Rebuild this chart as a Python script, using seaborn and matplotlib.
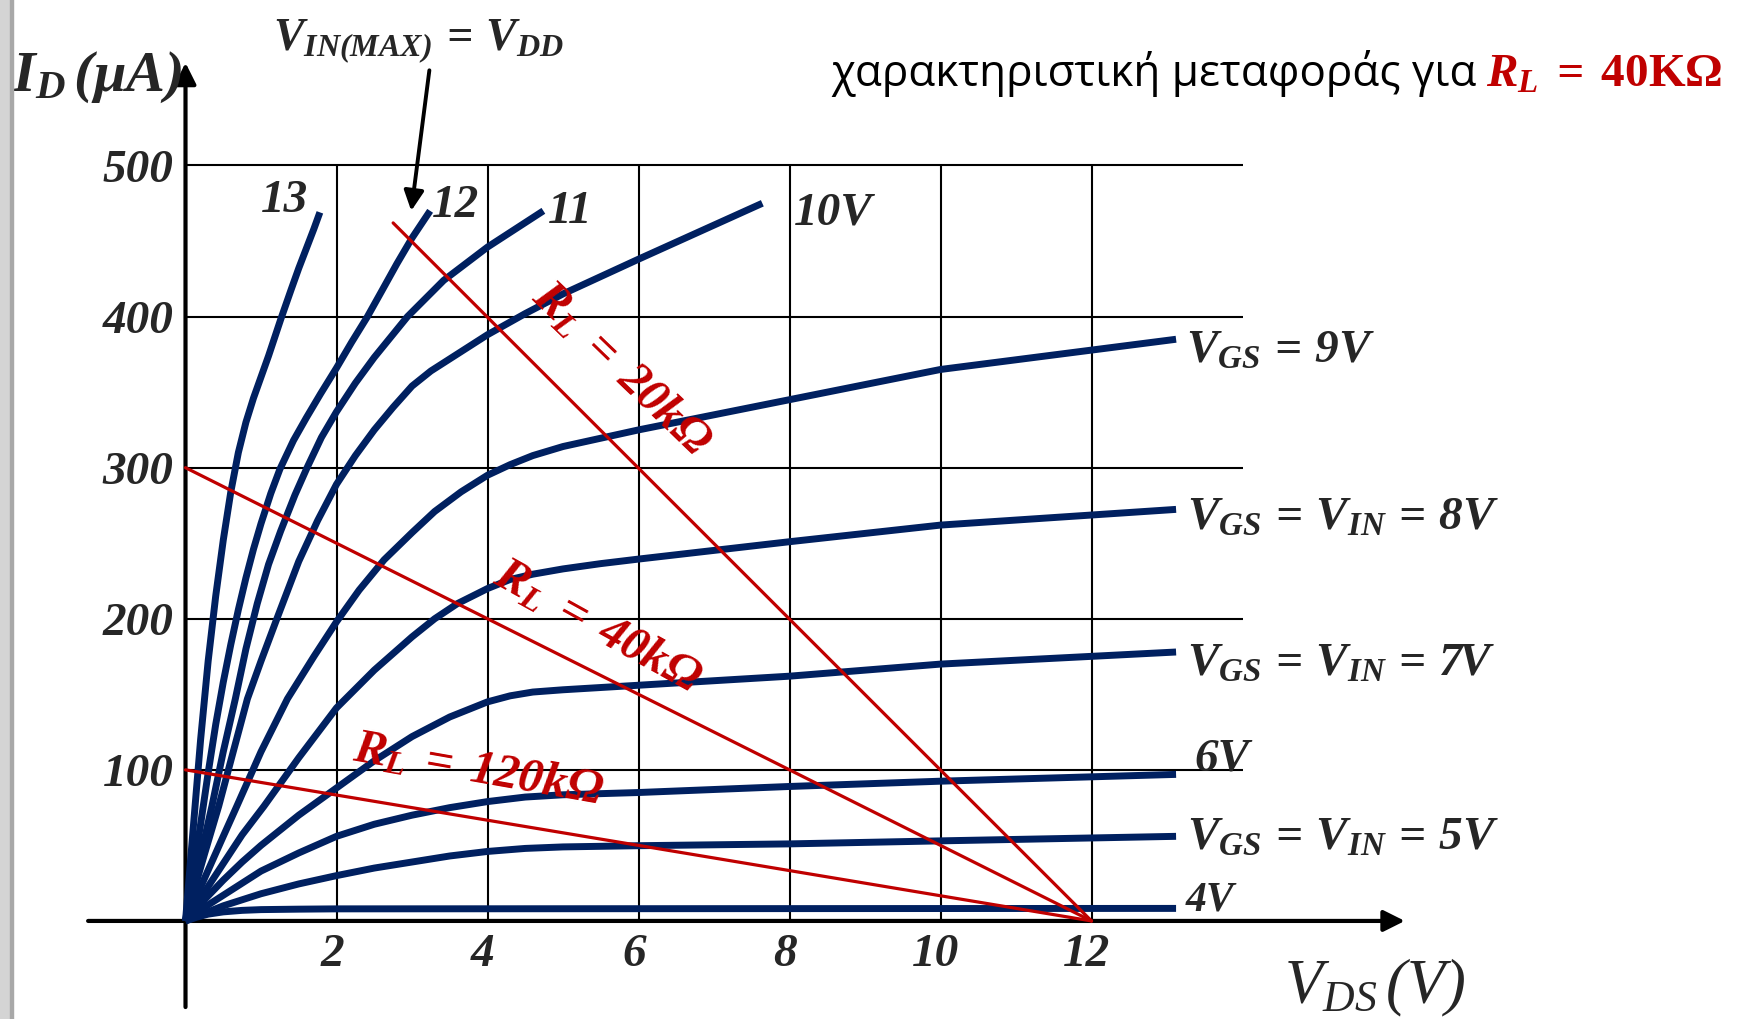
import matplotlib
matplotlib.use("Agg")
import matplotlib.pyplot as plt
import numpy as np
import pandas as pd
import seaborn as sns

# ---- drain characteristics I_D(V_DS) for each gate voltage ----
vds_13 = [0, 0.1, 0.2, 0.3, 0.4, 0.5, 0.6, 0.7, 0.8, 0.9, 1.0, 1.1, 1.26, 1.4, 1.5, 1.6, 1.7, 1.78]
id_13 = [0, 60, 120, 172, 215, 252, 284, 310, 330, 346, 360, 374, 398, 418, 432, 445, 458, 469]

vds_12 = [0, 0.1, 0.2, 0.3, 0.4, 0.5, 0.6, 0.7, 0.8, 0.9, 1.0, 1.13, 1.25, 1.43, 1.6, 1.79,
          2.0, 2.2, 2.41, 2.6, 2.8, 3.0, 3.24]
id_12 = [0, 32, 64, 98, 130, 158, 183, 206, 227, 246, 263, 283, 299, 318, 333, 349,
         366, 383, 400, 417, 435, 452, 470]

vds_11 = [0, 0.1, 0.2, 0.35, 0.5, 0.66, 0.8, 0.95, 1.1, 1.26, 1.45, 1.61, 1.8, 2.0, 2.25,
          2.5, 2.94, 3.42, 4.0, 4.74]
id_11 = [0, 21, 43, 76, 112, 147, 180, 210, 236, 258, 282, 300, 320, 337, 356,
         373, 400, 424, 446, 470]

vds_10 = [0, 0.1, 0.25, 0.44, 0.6, 0.82, 1.0, 1.21, 1.5, 1.75, 2.0, 2.25, 2.5, 2.75, 3.0,
          3.25, 3.5, 4.0, 4.5, 5.0, 6.0, 7.64]
id_10 = [0, 18, 44, 76, 106, 147, 172, 200, 238, 265, 289, 308, 325, 340, 354,
         364, 372, 388, 402, 415, 438, 475]

vds_9 = [0, 0.25, 0.5, 0.68, 1.0, 1.35, 1.7, 2.0, 2.3, 2.63, 3.0, 3.3, 3.65, 4.0, 4.3, 4.6,
         5.0, 6.0, 8.0, 10.0, 13.12]
id_9 = [0, 28, 56, 76, 112, 147, 175, 198, 219, 239, 257, 271, 284, 295, 302, 308,
        314, 325, 345, 365, 385]

vds_8 = [0, 0.25, 0.5, 0.75, 1.04, 1.5, 2.0, 2.5, 3.0, 3.3, 3.6, 4.0, 4.3, 4.6, 5.0, 5.5,
         6.0, 8.0, 10.0, 13.12]
id_8 = [0, 19, 38, 57, 76, 108, 141, 166, 188, 200, 210, 220, 226, 229.5, 233, 236.5,
        239.5, 251, 262, 272.4]

vds_7 = [0, 0.25, 0.5, 0.75, 1.0, 1.5, 2.0, 2.5, 3.0, 3.5, 4.0, 4.3, 4.6, 5.0, 6.0, 8.0,
         10.0, 13.12]
id_7 = [0, 14, 27, 39, 50, 70, 88, 106, 122, 135, 145, 149, 151.5, 153, 156, 162,
        170, 178]

vds_6 = [0, 0.25, 0.5, 1.0, 1.5, 2.0, 2.5, 3.0, 3.5, 4.0, 4.5, 5.0, 6.0, 8.0, 10.0, 13.12]
id_6 = [0, 9, 17, 33, 45, 56, 64, 70, 75, 79, 82, 83.5, 85, 89, 92.5, 97]

vds_5 = [0, 0.25, 0.5, 1.0, 1.5, 2.0, 2.5, 3.0, 3.5, 4.0, 4.5, 5.0, 6.0, 8.0, 10.0, 13.12]
id_5 = [0, 5, 10, 18, 24.5, 30, 35, 39, 43, 46, 48, 49, 49.8, 51, 53, 56]

vds_4 = [0, 0.15, 0.3, 0.5, 0.75, 1.0, 1.5, 2.0, 13.12]
id_4 = [0, 2.5, 4.5, 6, 7, 7.5, 7.8, 8, 8.3]

# ---- load lines (end points) ----
load_20k_v = [2.75, 12]
load_20k_i = [462, 0]
load_40k_v = [0, 12]
load_40k_i = [300, 0]
load_120k_v = [0, 12]
load_120k_i = [100, 0]

x_ticks = [2, 4, 6, 8, 10, 12]
y_ticks = [100, 200, 300, 400, 500]

curves = {
    13: (vds_13, id_13), 12: (vds_12, id_12), 11: (vds_11, id_11),
    10: (vds_10, id_10), 9: (vds_9, id_9), 8: (vds_8, id_8),
    7: (vds_7, id_7), 6: (vds_6, id_6), 5: (vds_5, id_5), 4: (vds_4, id_4),
}
df = pd.concat(
    [pd.DataFrame({"VDS": v, "ID": i, "VGS": g}) for g, (v, i) in curves.items()],
    ignore_index=True,
)
loads = pd.concat(
    [
        pd.DataFrame({"VDS": load_20k_v, "ID": load_20k_i, "RL": "20k"}),
        pd.DataFrame({"VDS": load_40k_v, "ID": load_40k_i, "RL": "40k"}),
        pd.DataFrame({"VDS": load_120k_v, "ID": load_120k_i, "RL": "120k"}),
    ],
    ignore_index=True,
)

sns.set_style("white")
plt.rcParams["font.family"] = ["Liberation Serif", "DejaVu Serif"]
plt.rcParams["mathtext.fontset"] = "custom"
plt.rcParams["mathtext.rm"] = "Liberation Serif:bold:italic"
plt.rcParams["mathtext.it"] = "Liberation Serif:bold:italic"
plt.rcParams["mathtext.bf"] = "Liberation Serif:bold"
plt.rcParams["mathtext.sf"] = "Liberation Serif:italic"

NAVY = "#002060"
RED = "#c00000"
SERIF = dict(family="Liberation Serif", weight="bold", style="italic")

fig = plt.figure(figsize=(17.39, 10.20), dpi=100)
ax = fig.add_axes([0, 0, 1, 1])

# grid limited to the plotting region
ax.vlines(x_ticks, 0, 500, color="black", lw=1.5, zorder=1)
ax.hlines(y_ticks, 0, 14, color="black", lw=1.5, zorder=1)

# axes with arrow heads
arrow_kw = dict(arrowstyle="-|>", lw=3.0, color="black", mutation_scale=32,
                shrinkA=0, shrinkB=0)
ax.annotate("", xy=(0, 568), xytext=(0, -57), arrowprops=arrow_kw, zorder=2)
ax.annotate("", xy=(16.15, 0), xytext=(-1.29, 0), arrowprops=arrow_kw, zorder=2)

# characteristic curves
sns.lineplot(data=df, x="VDS", y="ID", units="VGS", estimator=None, sort=False,
             color=NAVY, lw=5.0, ax=ax, legend=False, zorder=3,
             solid_joinstyle="round", solid_capstyle="butt")

# load lines
sns.lineplot(data=loads, x="VDS", y="ID", units="RL", estimator=None, sort=False,
             color=RED, lw=2.3, ax=ax, legend=False, zorder=4)
ax.set_xlim(-2.457, 20.576)
ax.set_ylim(-64.9, 610.2)
ax.axis("off")

# tick labels
for t in y_ticks:
    ax.text(-0.16, t - 3, str(t), ha="right", va="center", fontsize=34, **SERIF)
for t in x_ticks:
    ax.text(t - 0.06, -22, str(t), ha="center", va="center", fontsize=34, **SERIF)

# axis titles
ax.text(-2.3, 559, r"$I_D\,(\mu A)$", ha="left", va="center", fontsize=42)
ax.text(14.55, -44, r"$\mathsf{V_{DS}\,(V)}$", ha="left", va="center", fontsize=45)

# curve labels
ax.text(1.31, 477, "13", ha="center", va="center", fontsize=34, **SERIF)
ax.text(3.57, 474, "12", ha="center", va="center", fontsize=34, **SERIF)
ax.text(5.09, 470, "11", ha="center", va="center", fontsize=34, **SERIF)
ax.text(8.58, 469, "10V", ha="center", va="center", fontsize=34, **SERIF)
ax.text(13.25, 370, r"$V_{GS}\,=\,9V$", ha="left", va="baseline", fontsize=34)
ax.text(13.27, 259.5, r"$V_{GS}\,=\,V_{IN}\,=\,8V$", ha="left", va="baseline", fontsize=34)
ax.text(13.27, 163, r"$V_{GS}\,=\,V_{IN}\,=\,7V$", ha="left", va="baseline", fontsize=34)
ax.text(13.36, 100.5, "6V", ha="left", va="baseline", fontsize=34, **SERIF)
ax.text(13.27, 47.5, r"$V_{GS}\,=\,V_{IN}\,=\,5V$", ha="left", va="baseline", fontsize=34)
ax.text(13.25, 7.3, "4V", ha="left", va="baseline", fontsize=30, **SERIF)

# load line labels
ax.text(5.77, 366, r"$R_L\;=\;20k\Omega$", ha="center", va="center", fontsize=35,
        color=RED, rotation=-44, rotation_mode="anchor")
ax.text(5.45, 195, r"$R_L\;=\;40k\Omega$", ha="center", va="center", fontsize=35,
        color=RED, rotation=-29, rotation_mode="anchor")
ax.text(3.88, 100, r"$R_L\;=\;120k\Omega$", ha="center", va="center", fontsize=35,
        color=RED, rotation=-10, rotation_mode="anchor")

# maximum input annotation
ax.text(3.08, 583, r"$V_{IN(MAX)}\,=\,V_{DD}$", ha="center", va="center", fontsize=33)
ax.annotate("", xy=(2.99, 470), xytext=(3.23, 563),
            arrowprops=dict(arrowstyle="-|>", lw=2.8, color="black",
                            mutation_scale=30, shrinkA=0, shrinkB=0), zorder=5)

# heading
ax.text(8.55, 553, "χαρακτηριστική μεταφοράς για", ha="left", va="baseline",
        fontsize=31.7, family="Open Sans", color="black")
ax.text(17.22, 553, r"$R_L\;=\;\mathbf{40K\Omega}$", ha="left", va="baseline",
        fontsize=34, color=RED)

# slide edge strip
fig.patches.append(plt.Rectangle((0, 0), 10 / 1739, 1, transform=fig.transFigure,
                                 color="#d4d4d4", zorder=0))
fig.patches.append(plt.Rectangle((10 / 1739, 0), 3 / 1739, 1, transform=fig.transFigure,
                                 color="#a8a8a8", zorder=0))

fig.savefig("out.png", dpi=100)
